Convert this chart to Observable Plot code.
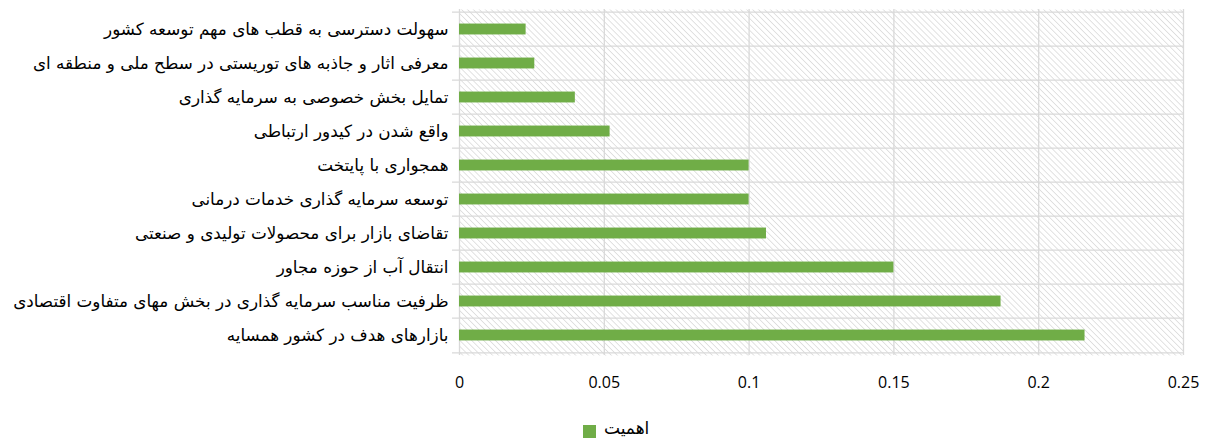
<!DOCTYPE html>
<html><head><meta charset="utf-8">
<script src="https://cdn.jsdelivr.net/npm/d3@7"></script>
<script src="https://cdn.jsdelivr.net/npm/@observablehq/plot@0.6"></script>
<style>
body{margin:0;background:#fff;}
#chart svg{display:block;}
#legend{position:relative;height:37px;font-family:"DejaVu Sans",sans-serif;font-size:17px;color:#000;}
#legend .sw{position:absolute;left:583px;top:20px;width:13px;height:13px;background:#70ad47;}
#legend .lb{position:absolute;left:604px;top:13px;}
</style></head><body>
<div id="chart"></div>
<div id="legend"></div>
<script>
const categories = [
  "سهولت دسترسی به قطب های مهم توسعه کشور",
  "معرفی اثار و جاذبه های توریستی در سطح ملی و منطقه ای",
  "تمایل بخش خصوصی به سرمایه گذاری",
  "واقع شدن در کیدور ارتباطی",
  "همجواری با پایتخت",
  "توسعه سرمایه گذاری خدمات درمانی",
  "تقاضای بازار برای محصولات تولیدی و صنعتی",
  "انتقال آب از حوزه مجاور",
  "ظرفیت مناسب سرمایه گذاری در بخش مهای متفاوت اقتصادی",
  "بازارهای هدف در کشور همسایه"
];
const values = [0.023, 0.026, 0.040, 0.052, 0.100, 0.100, 0.106, 0.150, 0.187, 0.216];
const xTicks = [0, 0.05, 0.1, 0.15, 0.2, 0.25];
const xTickLabels = ["0", "0.05", "0.1", "0.15", "0.2", "0.25"];
const seriesName = "اهمیت";

const W = 1205, H = 405, mT = 9, mB = 50, mL = 459, mR = 22;
const bandH = (H - mT - mB) / categories.length;
const barH = 11.5;
const inset = (bandH - barH) / 2;
const grid = "#d9d9d9";
const data = categories.map((c, i) => ({category: c, value: values[i]}));

const plot = Plot.plot({
  width: W, height: H,
  marginTop: mT, marginBottom: mB, marginLeft: mL, marginRight: mR,
  style: {fontFamily: "DejaVu Sans, sans-serif", fontSize: "14px", background: "white", overflow: "visible", color: "#000"},
  x: {domain: [0, 0.25]},
  y: {domain: categories, padding: 0},
  marks: [
    Plot.frame({fill: "url(#hatch)", stroke: null}),
    Plot.ruleX(xTicks, {stroke: grid, strokeWidth: 1.3, strokeOpacity: 1}),
    Plot.ruleY(categories, {y: d => d, dy: -bandH / 2, insetLeft: -7, stroke: grid, strokeWidth: 1.3, strokeOpacity: 1}),
    Plot.ruleY(categories.slice(-1), {y: d => d, dy: bandH / 2, insetLeft: -7, stroke: grid, strokeWidth: 1.3, strokeOpacity: 1}),
    Plot.barX(data, {x: "value", y: "category", fill: "#70ad47", insetTop: inset, insetBottom: inset}),
    Plot.axisX({ticks: xTicks, tickSize: 0, tickPadding: 21, tickFormat: (d, i) => xTickLabels[i], fontFamily: "Open Sans, sans-serif", fontSize: 16, label: null}),
    Plot.axisY({tickSize: 0, tickPadding: 11, label: null, fontFamily: "DejaVu Sans, sans-serif", fontSize: 16.8})
  ]
});

const ns = "http://www.w3.org/2000/svg";
const defs = document.createElementNS(ns, "defs");
defs.innerHTML = `<pattern id="hatch" patternUnits="userSpaceOnUse" width="4.2" height="4.2" patternTransform="rotate(-45)">
  <rect width="4.2" height="4.2" fill="#ffffff"/>
  <line x1="0" y1="0" x2="0" y2="4.2" stroke="#dcdcdc" stroke-width="1.6"/>
</pattern>`;
plot.insertBefore(defs, plot.firstChild);
document.getElementById("chart").appendChild(plot);

const lg = document.getElementById("legend");
lg.innerHTML = `<span class="sw"></span><span class="lb">${seriesName}</span>`;
</script>
</body></html>
